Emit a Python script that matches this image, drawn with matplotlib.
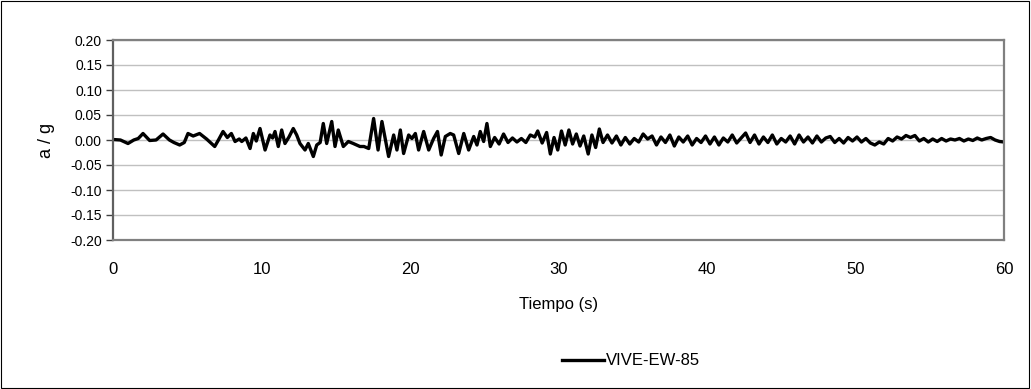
import matplotlib
matplotlib.use("Agg")
import matplotlib.pyplot as plt
from matplotlib.patches import Rectangle

plt.rcParams["font.family"] = ["Liberation Sans", "DejaVu Sans"]

# registro VIVE-EW-85
tiempo = [0.0, 0.5, 1.01, 1.4, 1.7, 2.02, 2.47, 2.9, 3.37, 3.8, 4.1, 4.49, 4.8, 5.05, 5.4, 5.83,
          6.3, 6.85, 7.1, 7.41, 7.7, 7.97, 8.22, 8.5, 8.67, 8.95, 9.23, 9.45, 9.65, 9.9, 10.24,
          10.57, 10.75, 10.91, 11.13, 11.36, 11.58, 11.85, 12.14, 12.37, 12.59, 12.93, 13.15,
          13.49, 13.72, 13.95, 14.16, 14.39, 14.73, 14.95, 15.17, 15.51, 15.85, 16.18, 16.63,
          16.9, 17.22, 17.55, 17.85, 18.11, 18.56, 18.9, 19.12, 19.35, 19.57, 19.91, 20.13,
          20.36, 20.58, 20.92, 21.26, 21.59, 21.85, 22.1, 22.38, 22.71, 22.94, 23.28, 23.62,
          23.95, 24.29, 24.51, 24.73, 24.96, 25.18, 25.41, 25.7, 26.0, 26.3, 26.6, 26.9, 27.2,
          27.5, 27.8, 28.1, 28.4, 28.6, 28.9, 29.2, 29.45, 29.7, 29.95, 30.2, 30.45, 30.7,
          30.95, 31.2, 31.45, 31.7, 32.0, 32.25, 32.5, 32.75, 33.0, 33.3, 33.6, 33.9, 34.2,
          34.5, 34.8, 35.1, 35.4, 35.7, 36.0, 36.3, 36.6, 36.9, 37.2, 37.5, 37.8, 38.1, 38.4,
          38.7, 39.0, 39.3, 39.6, 39.9, 40.2, 40.5, 40.8, 41.1, 41.4, 41.7, 42.0, 42.3, 42.6,
          42.9, 43.2, 43.5, 43.8, 44.1, 44.4, 44.7, 45.0, 45.3, 45.6, 45.9, 46.2, 46.5, 46.8,
          47.1, 47.4, 47.7, 48.0, 48.3, 48.6, 48.9, 49.2, 49.5, 49.8, 50.1, 50.4, 50.7, 51.0,
          51.3, 51.6, 51.9, 52.2, 52.5, 52.8, 53.1, 53.4, 53.7, 54.0, 54.3, 54.6, 54.9, 55.2,
          55.5, 55.8, 56.1, 56.4, 56.7, 57.0, 57.3, 57.6, 57.9, 58.2, 58.5, 58.8, 59.1, 59.4,
          59.7, 60.0]
acel = [0.001, 0.0, -0.007, 0.0, 0.003, 0.013, -0.001, 0.0, 0.012, 0.0, -0.005, -0.01, -0.005,
        0.013, 0.008, 0.013, 0.002, -0.013, 0.0, 0.017, 0.005, 0.013, -0.003, 0.002, -0.003,
        0.004, -0.017, 0.013, -0.002, 0.023, -0.02, 0.01, 0.004, 0.017, -0.013, 0.02, -0.007,
        0.006, 0.023, 0.01, -0.007, -0.02, -0.007, -0.033, -0.01, -0.005, 0.033, -0.007, 0.037,
        -0.013, 0.02, -0.013, -0.003, -0.007, -0.013, -0.013, -0.017, 0.043, -0.02, 0.037,
        -0.033, 0.01, -0.02, 0.02, -0.027, 0.01, 0.003, 0.013, -0.02, 0.017, -0.02, 0.003,
        0.017, -0.03, 0.007, 0.013, 0.01, -0.027, 0.013, -0.02, 0.007, -0.01, 0.017, -0.003,
        0.033, -0.013, 0.005, -0.008, 0.012, -0.005, 0.004, -0.004, 0.003, -0.005, 0.01, 0.006,
        0.018, -0.006, 0.015, -0.028, 0.005, -0.02, 0.018, -0.01, 0.02, -0.008, 0.012, -0.012,
        0.008, -0.028, 0.01, -0.015, 0.022, -0.005, 0.01, -0.006, 0.008, -0.01, 0.005, -0.008,
        0.003, -0.004, 0.012, 0.002, 0.008, -0.01, 0.006, -0.005, 0.01, -0.012, 0.006, -0.004,
        0.008, -0.01, 0.003, -0.005, 0.008, -0.008, 0.006, -0.01, 0.004, -0.004, 0.01, -0.006,
        0.004, 0.014, -0.005, 0.01, -0.008, 0.006, -0.005, 0.01, -0.008, 0.003, -0.004, 0.008,
        -0.008, 0.01, -0.004, 0.006, -0.006, 0.008, -0.004, 0.004, 0.007, -0.005, 0.003, -0.006,
        0.005, -0.002, 0.006, -0.004, 0.003, -0.006, -0.01, -0.004, -0.008, 0.003, -0.002,
        0.006, 0.002, 0.009, 0.005, 0.009, -0.002, 0.003, -0.004, 0.002, -0.003, 0.003, -0.002,
        0.002, 0.0, 0.003, -0.002, 0.002, -0.001, 0.004, 0.0, 0.003, 0.005, 0.0, -0.003, -0.004]

x_ticks = [0, 10, 20, 30, 40, 50, 60]
y_ticks = [-0.20, -0.15, -0.10, -0.05, 0.00, 0.05, 0.10, 0.15, 0.20]

fig = plt.figure(figsize=(10.31, 3.89), dpi=100)
ax = fig.add_axes([113 / 1031, 1 - 240 / 389, (1004 - 113) / 1031, 200 / 389])

# marco exterior del grafico
fig.patches.append(Rectangle((0.001, 0.002), 0.997, 0.995, transform=fig.transFigure,
                             fill=False, edgecolor="black", linewidth=0.8))

ax.plot(tiempo, acel, color="black", linewidth=2.4, label="VIVE-EW-85")

ax.set_xlim(0, 60)
ax.set_ylim(-0.2, 0.2)
ax.set_xticks(x_ticks)
ax.set_yticks(y_ticks)
ax.set_yticklabels(["%.2f" % v for v in y_ticks])
ax.yaxis.grid(True, color="#c0c0c0", linewidth=1.0)
ax.set_axisbelow(True)
for s in ax.spines.values():
    s.set_color("#808080")
    s.set_linewidth(1.6)
ax.spines["left"].set_color("#606060")
ax.tick_params(axis="y", direction="out", length=5, width=1, color="#404040",
               labelsize=10, pad=3)
ax.tick_params(axis="x", length=0, labelsize=12, pad=16)

ax.set_xlabel("Tiempo (s)", fontsize=12, labelpad=14)
ax.set_ylabel("a / g", fontsize=13, labelpad=11)

fig.legend(loc="center", bbox_to_anchor=(0.612, 0.072), frameon=False, fontsize=12,
           handlelength=2.5, handletextpad=0.1)

fig.savefig("out.png", dpi=100)
plt.close("all")
